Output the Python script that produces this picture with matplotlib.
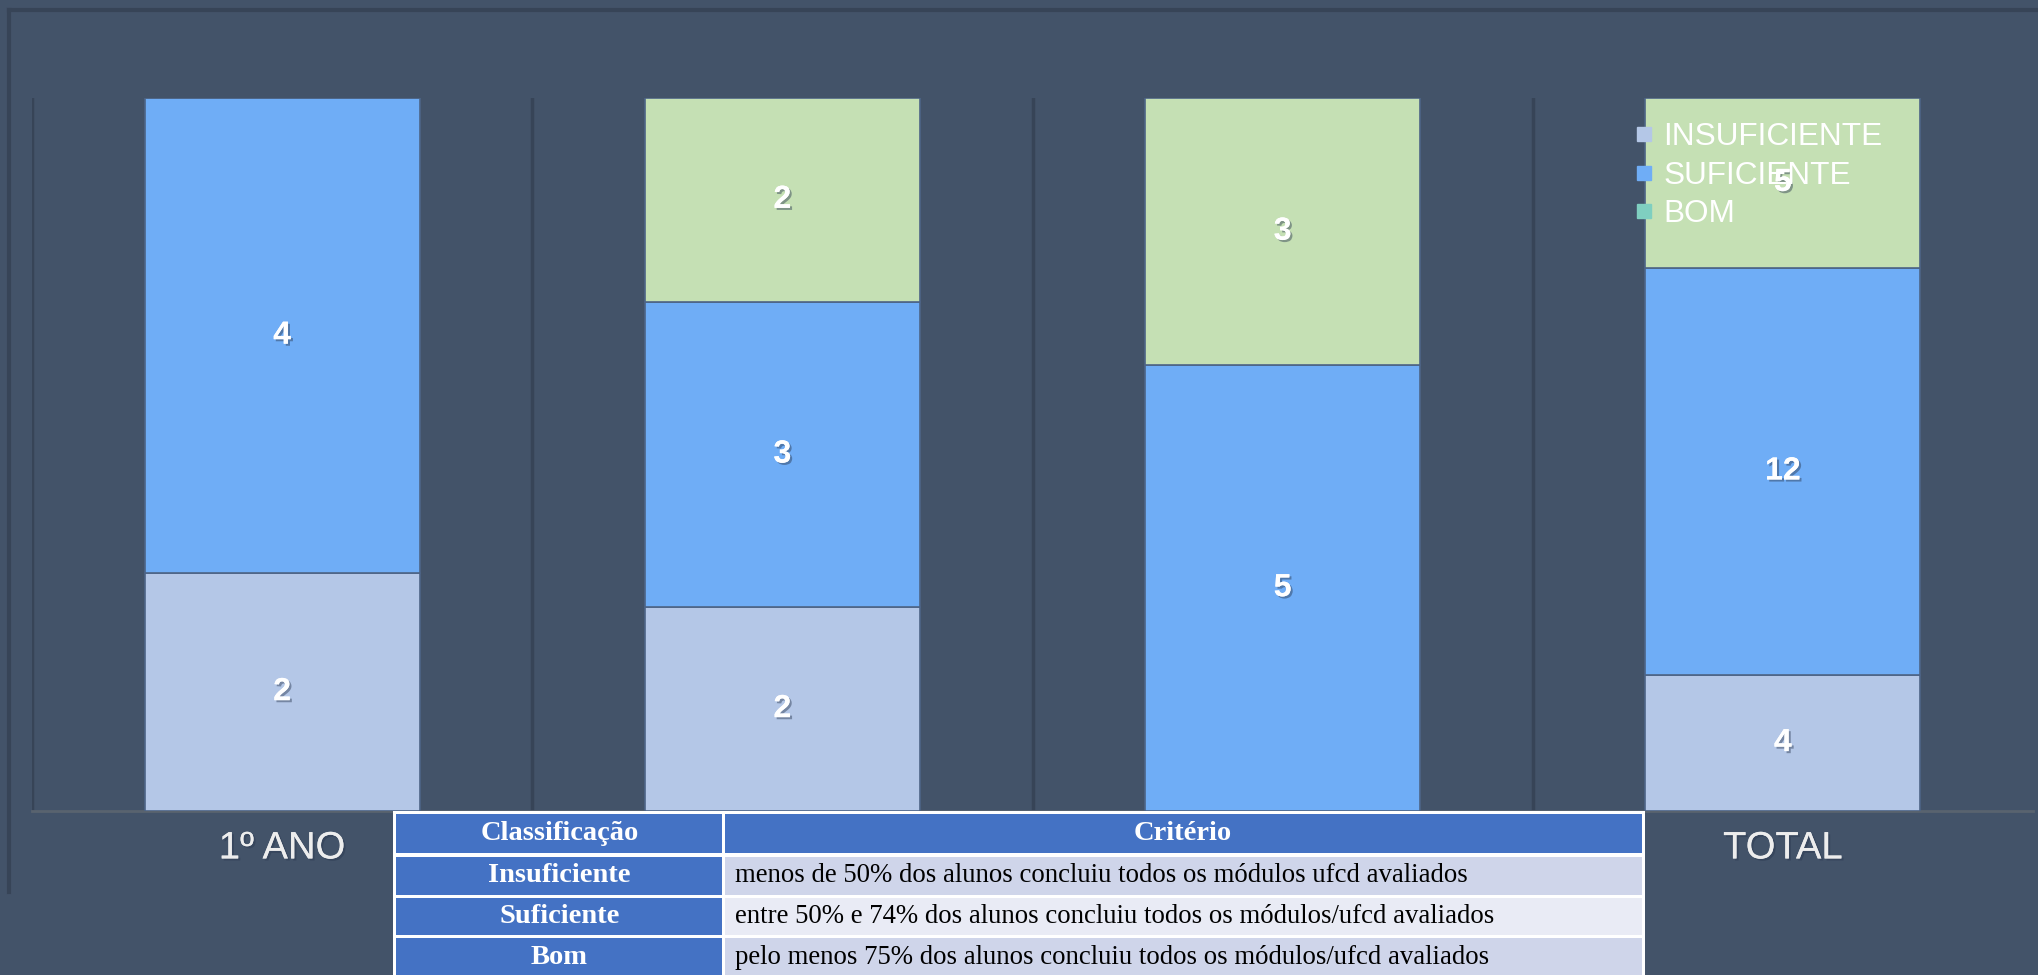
import matplotlib
matplotlib.use("Agg")
import matplotlib.pyplot as plt
import matplotlib.patheffects as pe
from matplotlib.patches import Rectangle
from matplotlib.lines import Line2D
import numpy as np

# ─── Data ───────────────────────────────────────────────────
categories   = ["1º ANO", "2º ANO", "3º ANO", "TOTAL"]
insuficiente = [2, 2, 0, 4]
suficiente   = [4, 3, 5, 12]
bom          = [0, 2, 3, 5]
series_names = ["INSUFICIENTE", "SUFICIENTE", "BOM"]

table_header = ["Classificação", "Critério"]
table_class  = ["Insuficiente", "Suficiente", "Bom"]
table_crit   = [
    "menos de 50% dos alunos concluiu todos os módulos ufcd avaliados",
    "entre 50% e 74% dos alunos concluiu todos os módulos/ufcd avaliados",
    "pelo menos 75% dos alunos concluiu todos os módulos/ufcd avaliados",
]

# ─── Colours ────────────────────────────────────────────────
BG       = "#435369"
FRAME    = "#374457"
C_INSUF  = "#B4C7E7"
C_SUF    = "#6FADF6"
C_BOM    = "#C5E0B4"
T_HEAD   = "#4472C4"
T_ROW_A  = "#CFD5EA"
T_ROW_B  = "#E9EBF5"

W, H = 2038, 975
fig = plt.figure(figsize=(W / 100, H / 100), dpi=100, facecolor=BG)

# plot area (pixel coords -> figure fractions)
px0, px1, py0, py1 = 32, 2033, 98, 811
ax = fig.add_axes([px0 / W, 1 - py1 / H, (px1 - px0) / W, (py1 - py0) / H])
ax.set_facecolor(BG)

vals = np.array([insuficiente, suficiente, bom], dtype=float)
totals = vals.sum(axis=0)
fracs = vals / totals
colors = [C_INSUF, C_SUF, C_BOM]
x = np.arange(len(categories))

shadow = [pe.withSimplePatchShadow(offset=(1.5, -1.5), shadow_rgbFace="#2a3850", alpha=0.45),
          pe.Normal()]

bottom = np.zeros(len(categories))
for i in range(3):
    ax.bar(x, fracs[i], bottom=bottom, width=0.55, color=colors[i],
           edgecolor="#4d6486", linewidth=1.2, zorder=3)
    for xi, v, f, b in zip(x, vals[i], fracs[i], bottom):
        if v > 0:
            ax.text(xi, b + f / 2, f"{int(v)}", ha="center", va="center",
                    color="white", fontsize=23, fontweight="bold",
                    family="Liberation Sans", zorder=4, path_effects=shadow)
    bottom += fracs[i]

ax.set_xlim(-0.5, len(categories) - 0.5)
ax.set_ylim(0, 1)
ax.set_yticks([])
ax.set_xticks(x)
ax.set_xticklabels(categories, fontsize=27.5, color="#EDEDED",
                   family="Liberation Sans")
for lbl in ax.get_xticklabels():
    lbl.set_path_effects(shadow)
ax.tick_params(axis="x", length=0, pad=14)

# category separators
for xs in np.arange(-0.5, len(categories) - 0.5, 1.0):
    ax.axvline(xs, color=FRAME, linewidth=2.5, zorder=1)
for s in ["top", "right", "left"]:
    ax.spines[s].set_visible(False)
ax.spines["bottom"].set_color("#59636F")
ax.spines["bottom"].set_linewidth(2)

# legend over the TOTAL bar
handles = [Line2D([], [], marker="s", linestyle="", markersize=10,
                  markerfacecolor=c, markeredgecolor=c) for c in [C_INSUF, C_SUF, "#7FCFC0"]]
leg = fig.legend(handles, series_names, loc="upper left",
                 bbox_to_anchor=(1619 / W, 1 - 106 / H), frameon=False,
                 labelcolor="white", handlelength=0.6,
                 handletextpad=0.3, labelspacing=0.28, borderpad=0,
                 prop={"family": "Liberation Sans", "size": 22.7})
leg.set_zorder(10)

# ─── overlay: chart frame + criteria table ─────────────────
ov = fig.add_axes([0, 0, 1, 1], facecolor="none")
ov.set_xlim(0, W)
ov.set_ylim(H, 0)
ov.axis("off")
ov.plot([9, W], [10, 10], color=FRAME, linewidth=3)
ov.plot([9, 9], [10, 892], color=FRAME, linewidth=3)

tx0, tsplit, tx1 = 396, 723, 1642
row_y = [(814, 853), (857, 895), (898, 935), (938, 976)]
ov.add_patch(Rectangle((tx0 - 3, 811), tx1 - tx0 + 6, H - 811, facecolor="white",
                       edgecolor="none", zorder=5))

def cell(x0, x1, y0, y1, fc):
    ov.add_patch(Rectangle((x0, y0), x1 - x0, y1 - y0, facecolor=fc,
                           edgecolor="none", zorder=6))

y0, y1 = row_y[0]
cell(tx0, tsplit - 1, y0, y1, T_HEAD)
cell(tsplit + 2, tx1, y0, y1, T_HEAD)
ov.text((tx0 + tsplit) / 2, (y0 + y1) / 2, table_header[0], ha="center", va="center",
        color="white", fontsize=20.5, fontweight="bold", family="Liberation Serif", zorder=7)
ov.text((tsplit + tx1) / 2, (y0 + y1) / 2, table_header[1], ha="center", va="center",
        color="white", fontsize=20.5, fontweight="bold", family="Liberation Serif", zorder=7)

for k, (name, crit) in enumerate(zip(table_class, table_crit)):
    y0, y1 = row_y[k + 1]
    cell(tx0, tsplit - 1, y0, y1, T_HEAD)
    cell(tsplit + 2, tx1, y0, y1, T_ROW_A if k % 2 == 0 else T_ROW_B)
    ov.text((tx0 + tsplit) / 2, (y0 + y1) / 2, name, ha="center", va="center",
            color="white", fontsize=20.5, fontweight="bold", family="Liberation Serif", zorder=7)
    ov.text(tsplit + 12, (y0 + y1) / 2, crit, ha="left", va="center",
            color="black", fontsize=19.3, family="Liberation Serif", zorder=7)

fig.savefig("out.png", dpi=100, facecolor=BG)
